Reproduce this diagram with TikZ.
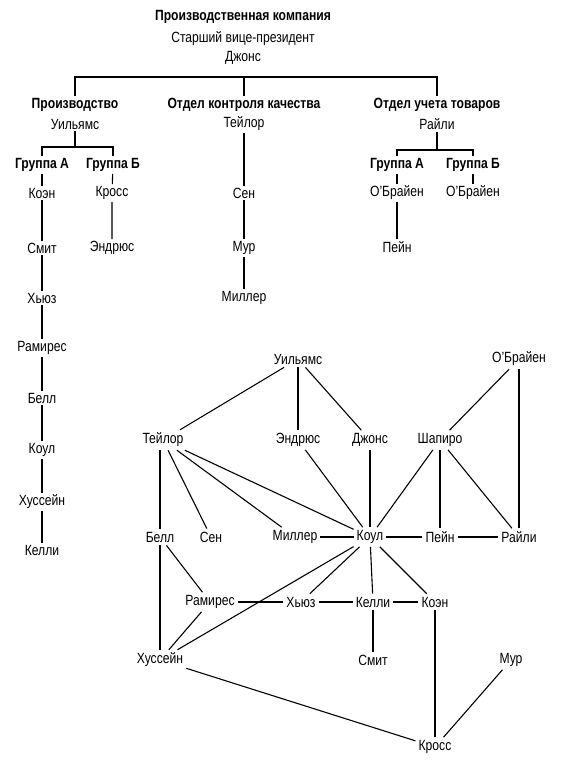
\documentclass[tikz,border=0pt]{standalone}
\usepackage{fontspec}
\setmainfont[FakeStretch=0.82]{Liberation Sans}
\usetikzlibrary{positioning}
\begin{document}
\begin{tikzpicture}[
    x=1pt, y=-1pt,
    person/.style={inner sep=2pt, font=\fontsize{14.8}{16}\selectfont},
    head/.style={inner sep=2pt, font=\fontsize{14.8}{16}\selectfont\bfseries},
    vertex/.style={inner sep=3pt, font=\fontsize{14.8}{16}\selectfont},
    link/.style={line width=1.1pt}
]
\useasboundingbox (0,0) rectangle (568,760);
\node[head] (company) at (243,17) {Производственная компания};
\node[person] (vp) at (243,39) {Старший вице-президент};
\node[person] (jonesT) at (243,58) {Джонс};
\coordinate (bus) at (243,77);
\node[head] (prod) at (75,105) {Производство};
\node[person] (wilT) at (75,124) {Уильямс};
\node[head] (qc) at (244,105) {Отдел контроля качества};
\node[person] (taylorT) at (244,124) {Тейлор};
\node[head] (stock) at (437,105) {Отдел учета товаров};
\node[person] (rileyT) at (437,124) {Райли};
\draw[link] (prod.north) -- (prod.north |- bus) -- (stock.north |- bus) -- (stock.north);
\draw[link] (qc.north |- bus) -- (qc.north);
\coordinate (busP) at (75,147);
\node[head] (grpA) at (42,165) {Группа А};
\node[head] (grpB) at (113,165) {Группа Б};
\draw[link] (wilT.south) -- (busP);
\draw[link] (grpA.north) -- (grpA.north |- busP) -- (grpB.north |- busP) -- (grpB.north);
\node[person] (cohenT) at (42,193) {Коэн};
\node[person] (smithT) at (42,248) {Смит};
\node[person] (hughesT) at (42,298) {Хьюз};
\node[person] (ramirezT) at (42,348) {Рамирес};
\node[person] (bellT) at (42,398) {Белл};
\node[person] (coleT) at (42,450) {Коул};
\node[person] (husseinT) at (42,502) {Хуссейн};
\node[person] (kellyT) at (42,550) {Келли};
\node[person] (crossT) at (112,193) {Кросс};
\node[person] (andrewsT) at (112,248) {Эндрюс};
\draw[link] (grpA) -- (cohenT) -- (smithT) -- (hughesT) -- (ramirezT) -- (bellT) -- (coleT) -- (husseinT) -- (kellyT);
\draw[link] (grpB) -- (crossT) -- (andrewsT);
\node[person] (senT) at (244,193) {Сен};
\node[person] (mooreT) at (244,248) {Мур};
\node[person] (millerT) at (244,298) {Миллер};
\draw[link] (taylorT) -- (senT) -- (mooreT) -- (millerT);
\coordinate (busS) at (437,150);
\node[head] (grpC) at (397,165) {Группа А};
\node[head] (grpD) at (473,165) {Группа Б};
\node[person] (obrienA) at (397,193) {О’Брайен};
\node[person] (obrienB) at (473,193) {О’Брайен};
\node[person] (payneT) at (397,247) {Пейн};
\draw[link] (rileyT.south) -- (busS);
\draw[link] (grpC.north) -- (grpC.north |- busS) -- (grpD.north |- busS) -- (grpD.north);
\draw[link] (grpC) -- (obrienA) -- (payneT);
\draw[link] (grpD) -- (obrienB);
\node[vertex] (wil) at (298,359) {Уильямс};
\node[vertex] (obr) at (519,359) {О’Брайен};
\node[vertex] (tay) at (163,440) {Тейлор};
\node[vertex] (and) at (298,440) {Эндрюс};
\node[vertex] (jon) at (370,440) {Джонс};
\node[vertex] (sha) at (440,440) {Шапиро};
\node[vertex] (bel) at (160,537) {Белл};
\node[vertex] (sen) at (211,537) {Сен};
\node[vertex] (mil) at (295,537) {Миллер};
\node[vertex] (col) at (370,537) {Коул};
\node[vertex] (pay) at (440,537) {Пейн};
\node[vertex] (ril) at (519,537) {Райли};
\node[vertex] (ram) at (210,602) {Рамирес};
\node[vertex] (hug) at (301,602) {Хьюз};
\node[vertex] (kel) at (373,602) {Келли};
\node[vertex] (coh) at (435,602) {Коэн};
\node[vertex] (hus) at (160,660) {Хуссейн};
\node[vertex] (smi) at (373,660) {Смит};
\node[vertex] (mur) at (511,660) {Мур};
\node[vertex] (cro) at (435,747) {Кросс};
\draw[link] (wil) -- (tay);
\draw[link] (wil) -- (and);
\draw[link] (wil) -- (jon);
\draw[link] (obr) -- (sha);
\draw[link] (obr) -- (ril);
\draw[link] (bel) -- (bel |- tay.south);
\draw[link] (tay) -- (sen);
\draw[link] (tay) -- (mil);
\draw[link] (tay) -- (col);
\draw[link] (and) -- (col);
\draw[link] (jon) -- (col);
\draw[link] (sha) -- (col);
\draw[link] (sha) -- (pay);
\draw[link] (sha) -- (ril);
\draw[link] (mil) -- (col) -- (pay) -- (ril);
\draw[link] (bel) -- (ram);
\draw[link] (bel) -- (hus);
\draw[link] (ram) -- (hug) -- (kel) -- (coh);
\draw[link] (ram) -- (hus);
\draw[link] (col) -- (hus);
\draw[link] (col) -- (hug);
\draw[link] (col) -- (kel);
\draw[link] (col) -- (coh);
\draw[link] (kel) -- (smi);
\draw[link] (coh) -- (cro);
\draw[link] (hus) -- (cro);
\draw[link] (mur) -- (cro);
\end{tikzpicture}
\end{document}
